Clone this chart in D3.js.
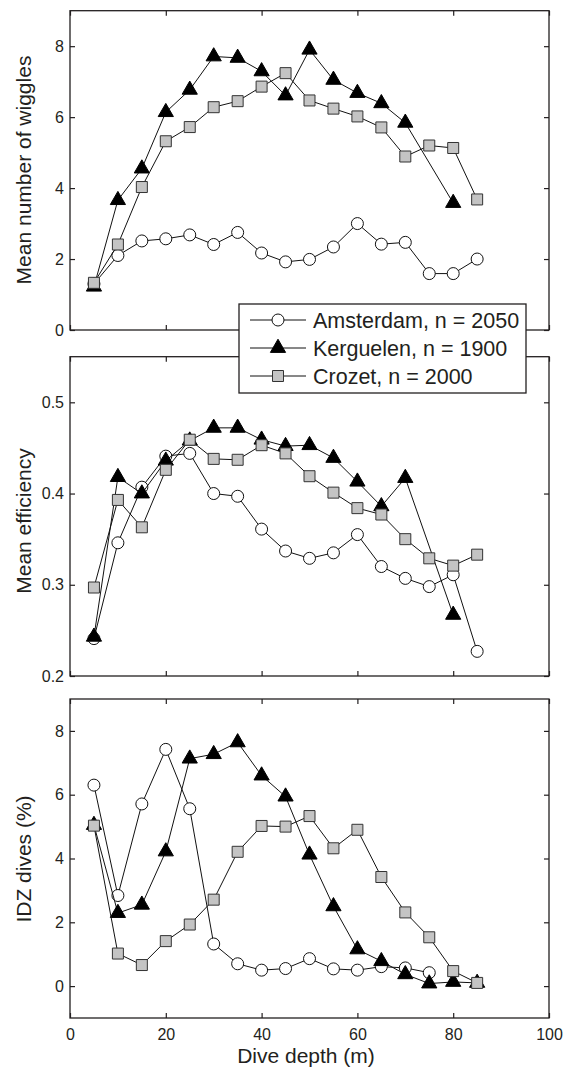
<!DOCTYPE html>
<html>
<head>
<meta charset="utf-8">
<script src="https://cdn.jsdelivr.net/npm/d3@7"></script>
<style>
  html, body { margin: 0; padding: 0; background: #fff; }
  svg { display: block; }
  text { font-family: "Liberation Sans", Arial, Helvetica, sans-serif; fill: #231f20; }
</style>
</head>
<body>
<svg id="chart" width="564" height="1068"></svg>
<script>
// ---------- data ----------
const depths = [5, 10, 15, 20, 25, 30, 35, 40, 45, 50, 55, 60, 65, 70, 75, 80, 85];
const seriesNames = ["Amsterdam", "Kerguelen", "Crozet"];
const legendLabels = ["Amsterdam, n = 2050", "Kerguelen, n = 1900", "Crozet, n = 2000"];

// Panel A: mean number of wiggles
const wigglesAmsterdam = [1.30, 2.10, 2.51, 2.57, 2.68, 2.41, 2.75, 2.17, 1.92, 1.99, 2.34, 3.00, 2.42, 2.47, 1.59, 1.59, 2.00];
const wigglesKerguelen = [1.22, 3.66, 4.55, 6.14, 6.77, 7.71, 7.67, 7.29, 6.61, 7.90, 7.05, 6.68, 6.39, 5.84, null, 3.58, null];
const wigglesCrozet    = [1.33, 2.41, 4.03, 5.32, 5.72, 6.28, 6.45, 6.86, 7.24, 6.47, 6.24, 6.02, 5.71, 4.89, 5.20, 5.13, 3.68];

// Panel B: mean efficiency
const effAmsterdam = [0.241, 0.346, 0.407, 0.441, 0.444, 0.400, 0.397, 0.361, 0.337, 0.329, 0.335, 0.355, 0.320, 0.307, 0.298, 0.311, 0.227];
const effKerguelen = [0.243, 0.418, 0.400, 0.436, 0.458, 0.472, 0.472, 0.459, 0.452, 0.453, 0.439, 0.413, 0.386, 0.417, null, 0.267, null];
const effCrozet    = [0.297, 0.393, 0.363, 0.426, 0.459, 0.438, 0.437, 0.453, 0.444, 0.419, 0.401, 0.384, 0.377, 0.350, 0.329, 0.321, 0.333];

// Panel C: IDZ dives (%)
const idzAmsterdam = [6.30, 2.84, 5.71, 7.42, 5.56, 1.32, 0.70, 0.50, 0.55, 0.86, 0.54, 0.50, 0.61, 0.57, 0.42, null, null];
const idzKerguelen = [5.05, 2.29, 2.55, 4.22, 7.13, 7.27, 7.64, 6.60, 5.94, 4.12, 2.50, 1.15, 0.78, 0.37, 0.08, 0.13, 0.10];
const idzCrozet    = [5.03, 1.02, 0.66, 1.41, 1.93, 2.71, 4.21, 5.02, 5.00, 5.33, 4.32, 4.90, 3.42, 2.31, 1.53, 0.47, 0.10];

// Axis settings
const xTicks = [0, 20, 40, 60, 80, 100];
const yTicksA = [0, 2, 4, 6, 8];
const yTicksB = [0.2, 0.3, 0.4, 0.5];
const yTicksC = [0, 2, 4, 6, 8];
const yLabels = ["Mean number of wiggles", "Mean efficiency", "IDZ dives (%)"];
const xLabel = "Dive depth (m)";

// ---------- layout ----------
const svg = d3.select("#chart");
const left = 70, right = 549;
const x = d3.scaleLinear().domain([0, 100]).range([left, right]);

const panels = [
  { top: 10.7, bottom: 330, domain: [0, 9], ticks: yTicksA, fmt: d3.format("d"),
    data: [wigglesAmsterdam, wigglesKerguelen, wigglesCrozet], label: yLabels[0], labelY: 170 },
  { top: 356.7, bottom: 676, domain: [0.2, 0.55], ticks: yTicksB, fmt: d3.format(".1f"),
    data: [effAmsterdam, effKerguelen, effCrozet], label: yLabels[1], labelY: 521 },
  { top: 699, bottom: 1018, domain: [-1, 9], ticks: yTicksC, fmt: d3.format("d"),
    data: [idzAmsterdam, idzKerguelen, idzCrozet], label: yLabels[2], labelY: 859 }
];

const styles = [
  { type: d3.symbolCircle, size: Math.PI * 36, fill: "#fff", stroke: "#111" },
  { type: d3.symbolTriangle, size: 100, fill: "#000", stroke: "#000" },
  { type: d3.symbolSquare, size: 121, fill: "#c4c4c4", stroke: "#333" }
];

const tickFont = 16;
const tickLen = 5;

panels.forEach((p, pi) => {
  const y = d3.scaleLinear().domain(p.domain).range([p.bottom, p.top]);
  const g = svg.append("g");

  // frame
  g.append("rect")
    .attr("x", left).attr("y", p.top)
    .attr("width", right - left).attr("height", p.bottom - p.top)
    .attr("fill", "none").attr("stroke", "#231f20").attr("stroke-width", 1.3);

  // left axis
  const ax = g.append("g").attr("transform", `translate(${left},0)`)
    .call(d3.axisLeft(y).tickValues(p.ticks).tickFormat(p.fmt)
      .tickSizeInner(-tickLen).tickSizeOuter(0).tickPadding(6));
  // right axis ticks
  const ar = g.append("g").attr("transform", `translate(${right},0)`)
    .call(d3.axisRight(y).tickValues(p.ticks).tickFormat("")
      .tickSizeInner(-tickLen).tickSizeOuter(0));
  // top ticks
  const at = g.append("g").attr("transform", `translate(0,${p.top})`)
    .call(d3.axisTop(x).tickValues(xTicks).tickFormat("")
      .tickSizeInner(-tickLen).tickSizeOuter(0));
  // bottom ticks (labels on last panel)
  const ab = g.append("g").attr("transform", `translate(0,${p.bottom})`)
    .call(d3.axisBottom(x).tickValues(xTicks)
      .tickFormat(pi === 2 ? d3.format("d") : "")
      .tickSizeInner(-tickLen).tickSizeOuter(0).tickPadding(11));

  [ax, ar, at, ab].forEach(a => {
    a.select(".domain").remove();
    a.selectAll(".tick line").attr("stroke", "#231f20").attr("stroke-width", 1.2);
    a.selectAll("text").attr("font-size", tickFont).attr("fill", "#231f20")
      .style("font-family", "'Liberation Sans', Arial, Helvetica, sans-serif");
  });

  // y label
  g.append("text")
    .attr("transform", `translate(31,${p.labelY}) rotate(-90)`)
    .attr("text-anchor", "middle")
    .attr("font-size", 21)
    .text(p.label);

  // series
  const line = d3.line().x(d => x(d[0])).y(d => y(d[1]));
  p.data.forEach((vals, si) => {
    const pts = depths.map((d, i) => [d, vals[i]]).filter(d => d[1] !== null);
    g.append("path").datum(pts)
      .attr("d", line).attr("fill", "none")
      .attr("stroke", "#111").attr("stroke-width", 1);
    const st = styles[si];
    g.selectAll(null).data(pts).enter().append("path")
      .attr("d", d3.symbol().type(st.type).size(st.size))
      .attr("transform", d => `translate(${x(d[0])},${y(d[1])})`)
      .attr("fill", st.fill).attr("stroke", st.stroke).attr("stroke-width", 1);
  });
});

// x label
svg.append("text")
  .attr("x", 306).attr("y", 1063)
  .attr("text-anchor", "middle")
  .attr("font-size", 21)
  .text(xLabel);

// legend
const lg = svg.append("g");
lg.append("rect")
  .attr("x", 239).attr("y", 304).attr("width", 287).attr("height", 89)
  .attr("fill", "#fff").attr("stroke", "#231f20").attr("stroke-width", 1.3);
const legendY = d3.scalePoint().domain(seriesNames).range([320, 376]);
seriesNames.forEach((name, i) => {
  const yy = legendY(name);
  lg.append("line").attr("x1", 250).attr("x2", 306).attr("y1", yy).attr("y2", yy)
    .attr("stroke", "#111").attr("stroke-width", 1);
  const st = styles[i];
  lg.append("path")
    .attr("d", d3.symbol().type(st.type).size(st.size))
    .attr("transform", `translate(278,${yy})`)
    .attr("fill", st.fill).attr("stroke", st.stroke).attr("stroke-width", 1);
  lg.append("text").attr("x", 313).attr("y", yy).attr("dy", "0.35em")
    .attr("font-size", 21.5).text(legendLabels[i]);
});
</script>
</body>
</html>
